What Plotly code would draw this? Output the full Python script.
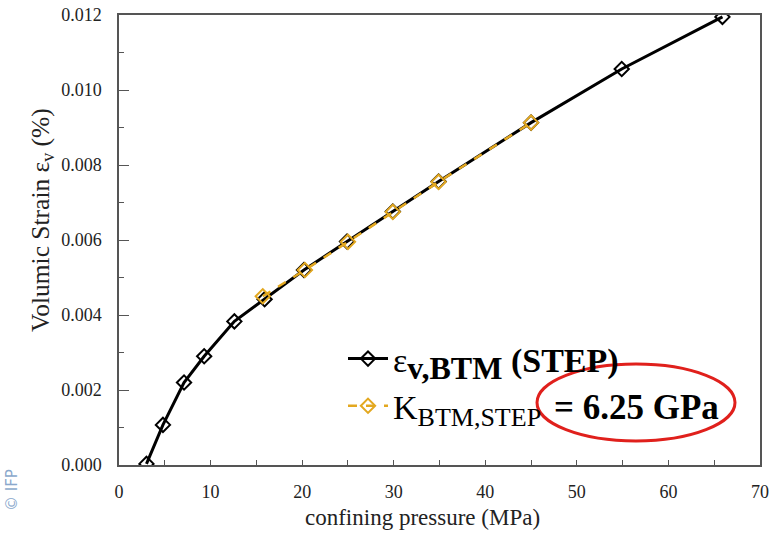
import plotly.graph_objects as go

# Confining pressure (MPa) and volumic strain for the STEP loading path
p_step = [3.0, 4.8, 7.1, 9.3, 12.6, 15.9, 20.2, 24.9, 29.9, 34.9, 45.0, 54.9, 65.9]
ev_step = [0.00003, 0.00107, 0.00220, 0.00290, 0.00383, 0.00442, 0.00520, 0.00596, 0.00676, 0.00756, 0.00913, 0.01056, 0.01195]

# Linear fit points used for the bulk modulus K
p_fit = [15.7, 20.3, 25.0, 29.9, 34.9, 45.0]
ev_fit = [0.00450, 0.00520, 0.00595, 0.00675, 0.00755, 0.00913]

K_label = "= 6.25 GPa"

x_ticks = [0, 10, 20, 30, 40, 50, 60, 70]
y_ticks = [0.000, 0.002, 0.004, 0.006, 0.008, 0.010, 0.012]

SERIF = "Times New Roman"
ORANGE = "#e3a820"

fig = go.Figure()
fig.add_trace(go.Scatter(
    x=p_step, y=ev_step, mode="lines+markers",
    name="ε<sub><span style='font-size:32px'><b>v,BTM</b></span></sub> <b>(STEP)</b>",
    line=dict(color="black", width=3),
    marker=dict(symbol="diamond-open", size=11, color="black", line=dict(width=2)),
))
fig.add_trace(go.Scatter(
    x=p_fit, y=ev_fit, mode="lines+markers",
    name="K<sub><span style='font-size:26px'>BTM,STEP</span></sub>",
    line=dict(color=ORANGE, width=2.5, dash="dash"),
    marker=dict(symbol="diamond-open", size=11, color=ORANGE, line=dict(width=2)),
))

axis_common = dict(
    showgrid=False, zeroline=False, showline=True, mirror=True, automargin=False,
    linecolor="#555555", linewidth=1.5, ticks="inside", tickcolor="#555555",
    tickfont=dict(family=SERIF, size=18, color="#222222"),
)
fig.update_xaxes(
    range=[0, 70], tickvals=x_ticks, ticklen=5, ticklabelstandoff=10,
    minor=dict(dtick=5, ticks="inside", ticklen=5, tickcolor="#555555"),
    **axis_common,
)
fig.update_yaxes(
    range=[0, 0.012], tickvals=y_ticks, tickformat=".3f", ticklen=10,
    ticklabelstandoff=12,
    minor=dict(dtick=0.001, ticks="inside", ticklen=5, tickcolor="#555555"),
    **axis_common,
)

fig.add_annotation(
    text="Volumic Strain ε<sub>v</sub> (%)", xref="paper", yref="paper",
    x=-(119 - 42) / 641, y=(465 - 220) / 450, textangle=-90,
    xanchor="center", yanchor="middle", showarrow=False,
    font=dict(family=SERIF, size=25.5, color="#222222"),
)
fig.add_annotation(
    text="confining pressure (MPa)", xref="paper", yref="paper",
    x=(422 - 119) / 641, y=-(517 - 465) / 450, xanchor="center", yanchor="middle",
    showarrow=False, font=dict(family=SERIF, size=23, color="#222222"),
)
fig.add_annotation(
    text=f"<b>{K_label}</b>", xref="paper", yref="paper",
    x=(636 - 119) / 641, y=(465 - 407) / 450, xanchor="center", yanchor="middle",
    showarrow=False, font=dict(family=SERIF, size=35, color="black"),
)
fig.add_shape(
    type="circle", xref="paper", yref="paper",
    x0=(537 - 119) / 641, x1=(735 - 119) / 641,
    y0=(465 - 441) / 450, y1=(465 - 364) / 450,
    line=dict(color="#e0201c", width=3),
)
fig.add_annotation(
    text="© IFP", xref="paper", yref="paper",
    x=-(119 - 12) / 641, y=-(490 - 465) / 450, textangle=-90,
    xanchor="center", yanchor="middle", showarrow=False,
    font=dict(family="DejaVu Sans", size=15, color="#8aa8cc"),
)

fig.update_layout(
    width=776, height=533,
    margin=dict(l=119, r=16, t=15, b=68),
    paper_bgcolor="white", plot_bgcolor="white",
    font=dict(family=SERIF),
    showlegend=True,
    legend=dict(
        x=(343 - 119) / 641, y=(465 - 330) / 450, xanchor="left", yanchor="top",
        bgcolor="rgba(0,0,0,0)", font=dict(family=SERIF, size=34, color="black"),
        itemwidth=40, tracegroupgap=0,
    ),
)

fig.write_html("out.html")
